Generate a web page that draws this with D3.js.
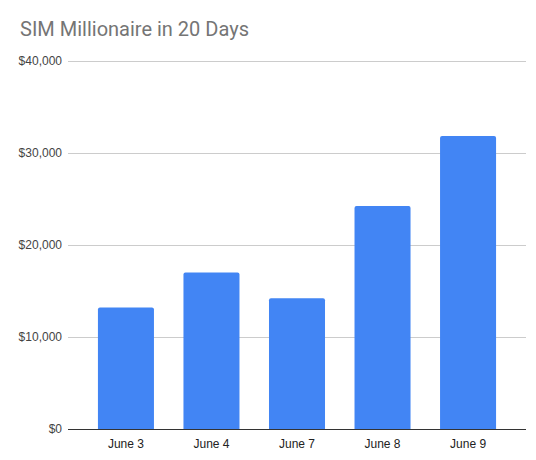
<!DOCTYPE html>
<html><head><meta charset="utf-8">
<script src="https://cdn.jsdelivr.net/npm/d3@7"></script>
<style>body{margin:0;background:#fff}</style>
</head><body>
<svg id="c" width="536" height="460"></svg>
<script>
const categories = ["June 3", "June 4", "June 7", "June 8", "June 9"];
const values = [13200, 17000, 14200, 24200, 31800];
const yTicks = [0, 10000, 20000, 30000, 40000];
const title = "SIM Millionaire in 20 Days";

const svg = d3.select("#c");
const x = d3.scaleBand().domain(categories).range([68, 526]).paddingInner(0.345).paddingOuter(0.35);
const y = d3.scaleLinear().domain([0, 40000]).range([429, 60.5]);
const fmt = d => "$" + d3.format(",")(d);

svg.append("text").attr("x", 20).attr("y", 36).text(title)
  .attr("font-family", "Roboto, Arial, sans-serif").attr("font-size", 20).attr("fill", "#757575");

const ya = svg.append("g").attr("transform", "translate(68,0)")
  .call(d3.axisLeft(y).tickValues(yTicks).tickFormat(fmt).tickSize(-458).tickPadding(6));
ya.select(".domain").remove();
ya.selectAll(".tick line").attr("stroke", "#cccccc").attr("shape-rendering", "crispEdges");
ya.selectAll(".tick text").attr("font-family", "Arial, 'Liberation Sans', sans-serif").attr("font-size", 12).attr("fill", "#444");

svg.append("g").selectAll("path").data(values).join("path")
  .attr("fill", "#4285f4")
  .attr("d", (d, i) => {
    const x0 = x(categories[i]), w = x.bandwidth(), y0 = y(d), y1 = y(0), r = 2;
    return `M${x0},${y1}V${y0 + r}Q${x0},${y0} ${x0 + r},${y0}H${x0 + w - r}Q${x0 + w},${y0} ${x0 + w},${y0 + r}V${y1}Z`;
  });

const xa = svg.append("g").attr("transform", "translate(0,429)")
  .call(d3.axisBottom(x).tickSize(0).tickPadding(10));
xa.select(".domain").attr("stroke", "#333").attr("d", "M68,0.5H526");
xa.selectAll(".tick text").attr("font-family", "Arial, 'Liberation Sans', sans-serif").attr("font-size", 12).attr("fill", "#222");
</script>
</body></html>
